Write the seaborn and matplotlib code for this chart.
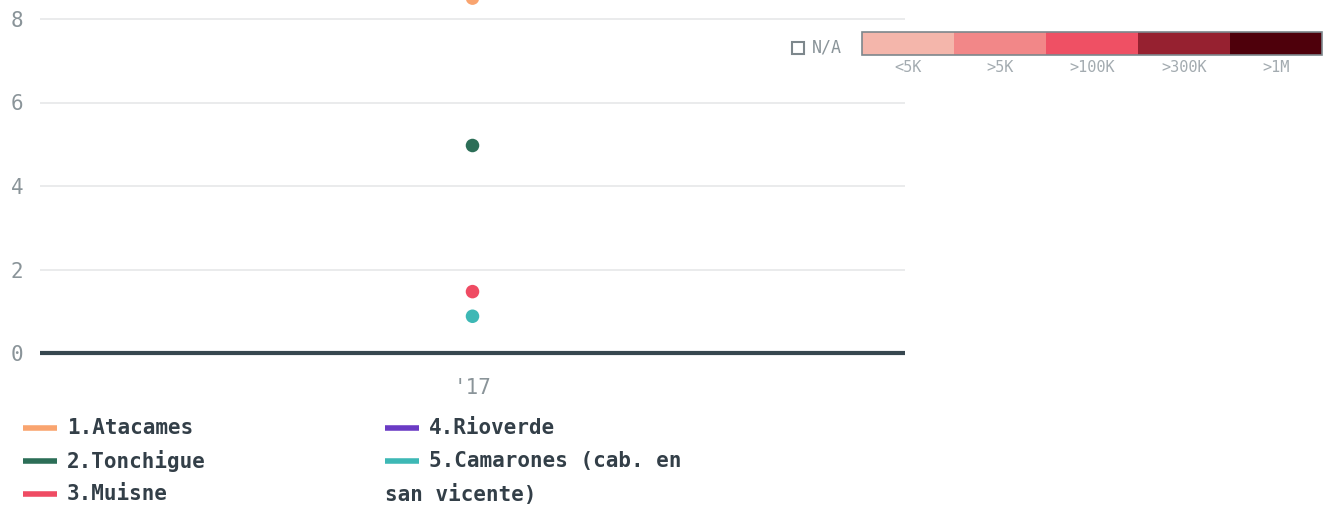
import numpy as np
import pandas as pd
import matplotlib
matplotlib.use("Agg")
import matplotlib.pyplot as plt
from matplotlib.lines import Line2D
from matplotlib.patches import Rectangle
import seaborn as sns

# ---- data ----
years = ["'17"]
series_names = ["1.Atacames", "2.Tonchigue", "3.Muisne", "4.Rioverde",
                "5.Camarones (cab. en\nsan vicente)"]
series_values = [8.5, 4.97, 1.47, np.nan, 0.88]
series_colors = ["#f9a46f", "#2c6e57", "#ef4b63", "#6a3bc4", "#3db8b5"]
y_ticks = [0, 2, 4, 6, 8]
scale_labels = ["<5K", ">5K", ">100K", ">300K", ">1M"]
scale_colors = ["#f4b6ab", "#f28788", "#ef5064", "#962130", "#4e000b"]

df = pd.DataFrame({
    "year": [years[0]] * len(series_names),
    "series": series_names,
    "value": series_values,
})

sns.set_theme(style="white")
plt.rcParams["font.family"] = ["DejaVu Sans Mono", "DejaVu Sans"]

fig = plt.figure(figsize=(13.32, 5.09), dpi=100)
ax = fig.add_axes([40 / 1332, 156 / 509, 865 / 1332, 353 / 509])

palette = dict(zip(series_names, series_colors))
sns.scatterplot(data=df.dropna(), x="year", y="value", hue="series",
                palette=palette, s=95, edgecolor="none", ax=ax,
                legend=False, zorder=5)

ax.set_xlim(-0.5, 0.5)
ax.set_ylim(0, 353 / 41.75)
ax.set_yticks(y_ticks)
ax.set_yticklabels([str(t) for t in y_ticks], color="#8a9499", fontsize=15)
ax.tick_params(axis="y", length=0, pad=12)
ax.tick_params(axis="x", length=0, pad=18, labelsize=15, labelcolor="#8a9499")
ax.set_xlabel("")
ax.set_ylabel("")
for t in y_ticks[1:]:
    ax.axhline(t, color="#e6e8e9", lw=1.2, zorder=0)
ax.axhline(0, color="#37474f", lw=3, zorder=3, clip_on=False,
           solid_capstyle="butt")
for sp in ax.spines.values():
    sp.set_visible(False)

# ---- bottom legend ----
W, H = 1332, 509
positions = [(23, 428), (23, 461), (23, 494), (385, 428), (385, 461)]
for (px, py), name, col in zip(positions, series_names, series_colors):
    fig.add_artist(Line2D([px / W, (px + 34) / W], [1 - py / H, 1 - py / H],
                          color=col, lw=4, solid_capstyle="butt",
                          transform=fig.transFigure))
    lines = name.split("\n")
    fig.text((px + 44) / W, 1 - py / H, lines[0], fontsize=15, fontweight="bold",
             color="#333f48", va="center", ha="left")
    if len(lines) > 1:
        fig.text(px / W, 1 - (py + 33) / H, lines[1], fontsize=15,
                 fontweight="bold", color="#333f48", va="center", ha="left")

# ---- color scale legend ----
x0, x1, y0, y1 = 862, 1322, 32, 55
cw = (x1 - x0) / len(scale_colors)
for i, (lab, col) in enumerate(zip(scale_labels, scale_colors)):
    fig.add_artist(Rectangle(((x0 + i * cw) / W, 1 - y1 / H), cw / W,
                             (y1 - y0) / H, facecolor=col, edgecolor="none",
                             transform=fig.transFigure))
    fig.text((x0 + (i + 0.5) * cw) / W, 1 - 67 / H, lab, fontsize=11,
             color="#a3abb0", ha="center", va="center")
fig.add_artist(Rectangle((x0 / W, 1 - y1 / H), (x1 - x0) / W, (y1 - y0) / H,
                         facecolor="none", edgecolor="#7d878c", lw=1.2,
                         transform=fig.transFigure))
fig.add_artist(Rectangle((792 / W, 1 - 54 / H), 12 / W, 12 / H,
                         facecolor="none", edgecolor="#7d878c", lw=1.5,
                         transform=fig.transFigure))
fig.text(812 / W, 1 - 48 / H, "N/A", fontsize=12, color="#8a9499",
         ha="left", va="center")

fig.savefig("out.png", dpi=100)
